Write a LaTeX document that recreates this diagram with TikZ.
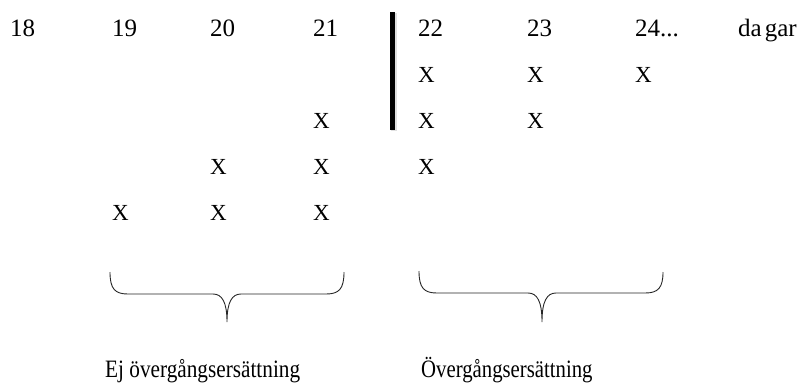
\documentclass[tikz,border=0pt]{standalone}
\usepackage{fontspec}
\setmainfont{Liberation Serif}
\begin{document}
\begin{tikzpicture}[x=1pt,y=-1pt,
  lbl/.style={anchor=base west,inner sep=0pt,font=\fontsize{23}{27}\selectfont},
  head/.style={anchor=base west,inner sep=0pt,font=\fontsize{25}{29}\selectfont},
  brace/.style={line width=0.9pt,black!85}]
\useasboundingbox (0,0) rectangle (804,384);
% header row
\node[head] (h18) at (10,36) {18};
\node[head] (h19) at (112,36) {19};
\node[head] (h20) at (210,36) {20};
\node[head] (h21) at (313,36) {21};
\node[head] (h22) at (418,36) {22};
\node[head] (h23) at (527,36) {23};
\node[head] (h24) at (635,36) {24...};
\node[head] (hd) at (738,36) {da\kern3pt gar};
% X marks
\node[lbl] (x22a) at (418,82) {X};
\node[lbl] (x23a) at (527,82) {X};
\node[lbl] (x24a) at (635,82) {X};
\node[lbl] (x21b) at (313,128) {X};
\node[lbl] (x22b) at (418,128) {X};
\node[lbl] (x23b) at (527,128) {X};
\node[lbl] (x20c) at (210,174) {X};
\node[lbl] (x21c) at (313,174) {X};
\node[lbl] (x22c) at (418,174) {X};
\node[lbl] (x19d) at (112,220) {X};
\node[lbl] (x20d) at (210,220) {X};
\node[lbl] (x21d) at (313,220) {X};
% divider bar
\draw[line width=6pt,black!12] (393.5,13) -- (393.5,131);
\draw[line width=4.8pt] (392.5,12) -- (392.5,130);
% braces
\draw[brace] (110,272) .. controls (110,289) and (115,294) .. (128,294) -- (213,294)
  .. controls (222,294) and (227,302) .. (227,322)
  .. controls (227,302) and (232,294) .. (241,294) -- (326,294)
  .. controls (339,294) and (344,289) .. (344,272);
\draw[brace] (419,271) .. controls (419,288) and (424,293) .. (437,293) -- (528,293)
  .. controls (537,293) and (542,301) .. (542,322)
  .. controls (542,301) and (547,293) .. (556,293) -- (645,293)
  .. controls (658,293) and (663,288) .. (663,272);
% labels
\node[head] (ej) at (105,377) {\scalebox{0.85}[1]{Ej övergångsersättning}};
\node[head] (ov) at (421,377) {\scalebox{0.83}[1]{Övergångsersättning}};
\end{tikzpicture}
\end{document}
